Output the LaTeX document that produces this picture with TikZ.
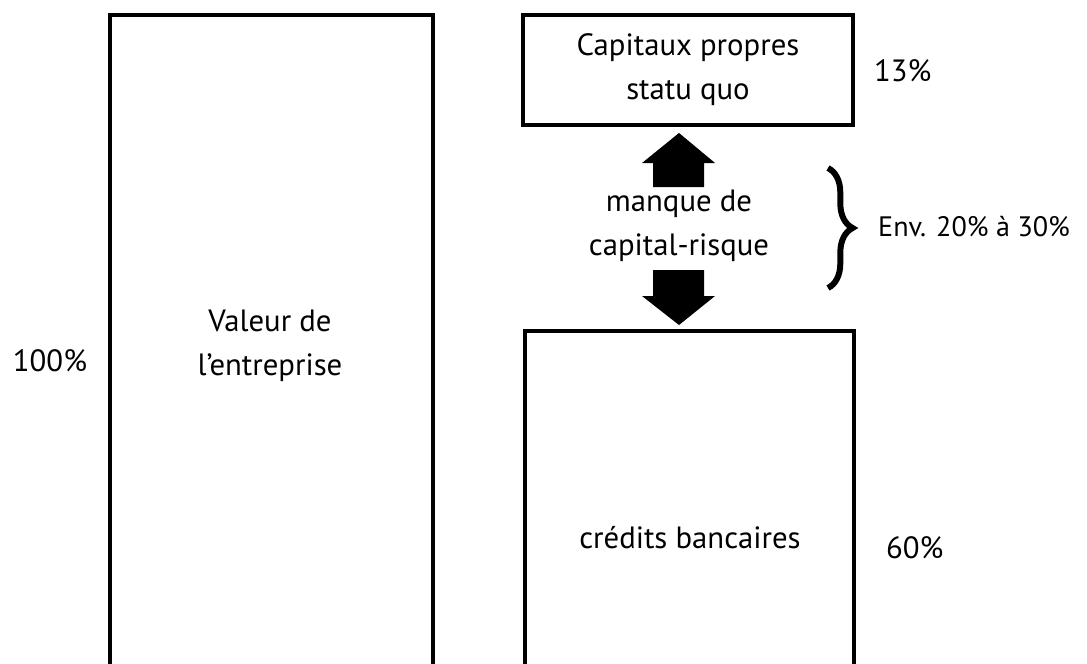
\documentclass[tikz,border=0pt]{standalone}
\usepackage{fontspec}
\setmainfont{PT Sans}
\usetikzlibrary{decorations.pathreplacing}
\begin{document}
\begin{tikzpicture}[x=0.02cm,y=-0.02cm,
    box/.style={draw,line width=2.2pt,outer sep=0pt,inner sep=0pt},
    txt/.style={font=\fontsize{17.5}{25}\selectfont,align=center},
    arrowfill/.style={fill=black}]
    % cadre de l'image
    \useasboundingbox (0,0) rectangle (1087,663);
    \clip (0,0) rectangle (1087,663);

    % les trois blocs
    \node[box,anchor=north west,minimum width=6.46cm,minimum height=13.6cm] (valeur) at (110,15) {};
    \node[box,anchor=north west,minimum width=6.6cm,minimum height=2.2cm] (capitaux) at (523,15) {};
    \node[box,anchor=north west,minimum width=6.58cm,minimum height=7.4cm] (credits) at (525,331) {};

    % textes des blocs
    \node[txt] (tvaleur) at (270,346) {Valeur de\\l’entreprise};
    \node[txt] (tcapitaux) at (capitaux.center) {Capitaux propres\\statu quo};
    \node[txt] (tcredits) at (690,538) {crédits bancaires};
    \node[txt] (manque) at (679,226) {manque de\\capital-risque};

    % pourcentages
    \node[txt] (p100) at (50,361) {100\%};
    \node[txt,anchor=west] (p13) at (868,71) {13\%};
    \node[txt,anchor=west] (p60) at (880,548) {60\%};
    \node[txt,anchor=west,font=\fontsize{16}{22}\selectfont] (env) at (872,227) {Env. 20\% à 30\%};

    % fleches pleines
    \fill[arrowfill] (679,133) -- (715,163) -- (704,163) -- (704,187) -- (653,187)
        -- (653,163) -- (642,163) -- cycle;
    \fill[arrowfill] (653,270) -- (704,270) -- (704,296) -- (715,296) -- (679,325)
        -- (642,296) -- (653,296) -- cycle;

    % accolade
    \coordinate (bhaut) at (828,168);
    \coordinate (bbas) at (828,288);
    \draw[line width=3.4pt,decorate,decoration={brace,amplitude=14pt}] (bhaut) -- (bbas);
\end{tikzpicture}
\end{document}
